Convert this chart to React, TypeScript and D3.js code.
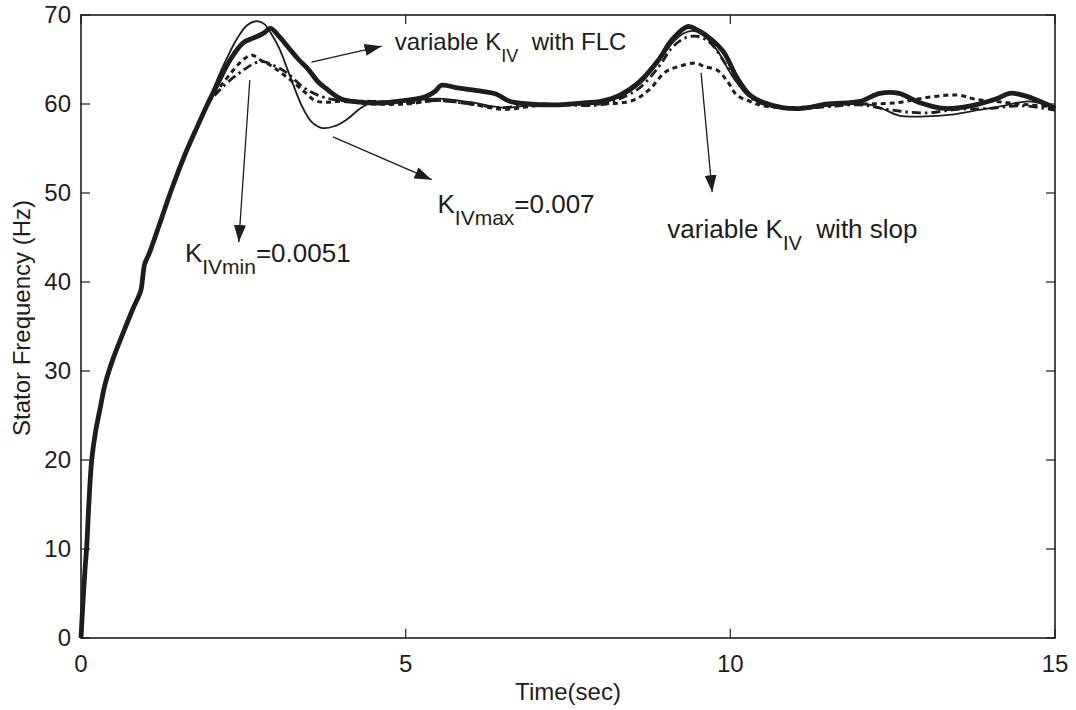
import React from "react";
import * as d3 from "d3";

// shared start-up transient (all four runs lie on top of each other here)
const riseT = [0, 0.03, 0.06, 0.09, 0.12, 0.165, 0.22, 0.3, 0.37, 0.5, 0.65, 0.8, 0.92, 0.95, 0.98, 1.05, 1.2, 1.4, 1.6, 1.8, 1.95];
const riseF = [0, 4, 7.5, 10.5, 15, 20, 23, 26, 28.5, 31.5, 34.3, 37, 39, 40.5, 42, 43.2, 46.3, 50.5, 54.3, 57.6, 60];

// variable K_IV with FLC (thick)
const flcT = [2.1, 2.3, 2.5, 2.65, 2.8, 2.92, 3.05, 3.2, 3.35, 3.5, 3.65, 3.8, 4.0, 4.3, 4.6, 5.0, 5.3, 5.45, 5.55, 5.8, 6.1, 6.4, 6.6, 6.9, 7.3, 7.7, 8.0, 8.3, 8.6, 8.9, 9.1, 9.34, 9.5, 9.7, 9.9, 10.1, 10.3, 10.5, 10.8, 11.1, 11.5, 12.0, 12.3, 12.6, 12.9, 13.3, 13.7, 14.1, 14.3, 14.5, 14.8, 15];
const flcF = [62.2, 65.0, 66.9, 67.4, 67.9, 68.5, 67.6, 66.3, 65.0, 63.9, 62.5, 61.6, 60.6, 60.2, 60.1, 60.4, 60.8, 61.4, 62.1, 61.8, 61.5, 61.1, 60.3, 60.0, 59.9, 60.1, 60.3, 61.0, 62.5, 65.0, 67.2, 68.7, 68.3, 67.3, 65.8, 63.0, 61.0, 60.2, 59.6, 59.5, 60.0, 60.3, 61.2, 61.2, 60.2, 59.5, 59.8, 60.6, 61.2, 61.0, 60.2, 59.5];

// K_IVmax = 0.007 (thin)
const maxT = [2.1, 2.25, 2.4, 2.55, 2.7, 2.82, 2.92, 3.05, 3.2, 3.4, 3.55, 3.72, 3.9, 4.1, 4.3, 4.5, 5.0, 5.5, 6.0, 6.5, 7.0, 7.5, 8.0, 8.3, 8.6, 8.9, 9.1, 9.3, 9.45, 9.6, 9.8, 10.0, 10.2, 10.4, 10.6, 11, 11.5, 12, 12.3, 12.6, 13.0, 13.4, 13.8, 14.2, 14.6, 15];
const maxF = [62.8, 65.2, 67.3, 68.8, 69.3, 69.0, 68.0, 66.3, 63.5, 59.8, 58.0, 57.3, 57.5, 58.3, 59.5, 60.2, 60.3, 60.6, 60.2, 59.6, 59.9, 60.0, 60.1, 60.8, 62.2, 64.8, 66.8, 68.0, 68.2, 67.6, 66.0, 63.5, 61.5, 60.4, 59.8, 59.4, 59.8, 60.1, 59.6, 58.7, 58.6, 58.8, 59.3, 59.8, 60.3, 59.6];

// variable K_IV with slop (dashed)
const slopT = [2.1, 2.3, 2.5, 2.63, 2.75, 2.95, 3.1, 3.26, 3.45, 3.6, 3.75, 4.0, 4.5, 5.0, 5.5, 6.0, 6.5, 7.0, 7.5, 8.0, 8.5, 8.75, 9.0, 9.2, 9.47, 9.6, 9.8, 9.95, 10.1, 10.3, 10.5, 11, 11.5, 12, 12.5, 13.1, 13.5, 13.8, 14.2, 14.6, 15];
const slopF = [61.5, 63.4, 65.0, 65.5, 65.0, 64.2, 63.4, 62.5, 61.3, 60.4, 60.2, 60.3, 60.0, 60.0, 60.4, 60.0, 59.4, 59.8, 60.0, 60.0, 60.4, 61.6, 63.6, 64.2, 64.6, 64.2, 63.8, 62.6, 61.0, 60.3, 59.8, 59.6, 59.9, 60.0, 60.1, 60.8, 61.0, 60.5, 60.2, 59.9, 59.7];

// K_IVmin = 0.0051 (dash-dot)
const minT = [2.1, 2.3, 2.5, 2.65, 2.78, 2.95, 3.17, 3.42, 3.72, 4.0, 4.5, 5.0, 5.5, 6.0, 6.5, 7.0, 8.0, 8.3, 8.6, 8.9, 9.1, 9.3, 9.5, 9.7, 9.9, 10.1, 10.3, 10.5, 11, 11.5, 12, 12.5, 13, 13.5, 14, 14.5, 15];
const minF = [61.3, 62.7, 63.8, 64.5, 64.8, 64.4, 63.5, 61.9, 60.8, 60.4, 60.3, 60.1, 60.4, 60.0, 59.6, 60.0, 59.9, 60.6, 61.8, 64.2, 66.3, 67.4, 67.6, 66.8, 64.8, 62.5, 60.8, 60.0, 59.5, 59.7, 59.9, 59.3, 59.0, 59.4, 59.5, 59.8, 59.3];

const xTicks = [0, 5, 10, 15];
const yTicks = [0, 10, 20, 30, 40, 50, 60, 70];

const W = 1076;
const H = 710;
const left = 81, right = 1055, top = 15, bottom = 638;
const ink = "#1f1c1d";
const font = "'Liberation Sans', Arial, Helvetica, sans-serif";

const x = d3.scaleLinear().domain([0, 15]).range([left, right]);
const y = d3.scaleLinear().domain([0, 70]).range([bottom, top]);

const line = d3
  .line<[number, number]>()
  .x((d) => x(d[0]))
  .y((d) => y(d[1]))
  .curve(d3.curveCatmullRom.alpha(0.5));

const join = (t: number[], f: number[]) =>
  riseT.map((v, i) => [v, riseF[i]] as [number, number]).concat(t.map((v, i) => [v, f[i]] as [number, number]));

const series = [
  { name: "min", t: minT, f: minF, width: 2.8, dash: "9,4,2.5,4" },
  { name: "slop", t: slopT, f: slopF, width: 3, dash: "5,4" },
  { name: "max", t: maxT, f: maxF, width: 1.8, dash: null },
  { name: "flc", t: flcT, f: flcF, width: 4.8, dash: null },
];

// arrows in data units: [t0, f0, t1, f1]
const arrows = [
  [3.55, 64.7, 4.63, 66.5],
  [3.88, 56.3, 5.4, 51.5],
  [2.6, 62.7, 2.43, 44.5],
  [9.55, 63.5, 9.72, 50.1],
];

const Label = ({ t, f, main, sub, rest, size = 24, subSize = 18 }: any) => (
  <text x={x(t)} y={y(f)} fontFamily={font} fontSize={size} fill={ink}>
    {main}
    <tspan fontSize={subSize} dy={12}>{sub}</tspan>
    <tspan dy={-12}>{rest}</tspan>
  </text>
);

export default function App() {
  return (
    <svg width={W} height={H} style={{ position: "absolute", left: 0, top: 0, background: "#fff" }}>
      <defs>
        <marker id="head" markerUnits="userSpaceOnUse" markerWidth={18} markerHeight={12} refX={17} refY={6} orient="auto">
          <path d="M0,0 L17,6 L0,12 Z" fill={ink} />
        </marker>
      </defs>

      {series.map((s) => (
        <path
          key={s.name}
          d={line(join(s.t, s.f)) || ""}
          fill="none"
          stroke={ink}
          strokeWidth={s.width}
          strokeDasharray={s.dash || undefined}
          strokeLinejoin="round"
        />
      ))}

      {/* axes box with inward ticks on all sides */}
      <rect x={left} y={top} width={right - left} height={bottom - top} fill="none" stroke={ink} strokeWidth={1.6} />
      {xTicks.map((v) => (
        <g key={"x" + v}>
          <line x1={x(v)} x2={x(v)} y1={bottom} y2={bottom - 9} stroke={ink} strokeWidth={1.2} />
          <line x1={x(v)} x2={x(v)} y1={top} y2={top + 9} stroke={ink} strokeWidth={1.2} />
          <text x={x(v)} y={bottom + 34} textAnchor="middle" fontFamily={font} fontSize={24} fill={ink}>
            {v}
          </text>
        </g>
      ))}
      {yTicks.map((v) => (
        <g key={"y" + v}>
          <line x1={left} x2={left + 9} y1={y(v)} y2={y(v)} stroke={ink} strokeWidth={1.2} />
          <line x1={right} x2={right - 9} y1={y(v)} y2={y(v)} stroke={ink} strokeWidth={1.2} />
          <text x={left - 10} y={y(v) + 8} textAnchor="end" fontFamily={font} fontSize={24} fill={ink}>
            {v}
          </text>
        </g>
      ))}
      <text x={(left + right) / 2} y={700} textAnchor="middle" fontFamily={font} fontSize={24} fill={ink}>
        Time(sec)
      </text>
      <text
        transform={`translate(30,318) rotate(-90)`}
        textAnchor="middle"
        fontFamily={font}
        fontSize={24}
        fill={ink}
      >
        Stator Frequency (Hz)
      </text>

      {arrows.map((a, i) => (
        <line
          key={"a" + i}
          x1={x(a[0])}
          y1={y(a[1])}
          x2={x(a[2])}
          y2={y(a[3])}
          stroke={ink}
          strokeWidth={1.3}
          markerEnd="url(#head)"
        />
      ))}

      <Label t={4.83} f={66.07} main="variable K" sub="IV" rest={"\u00a0\u00a0with FLC"} />
      <Label t={5.49} f={47.75} main="K" sub="IVmax" rest="=0.007" size={26} subSize={21} />
      <Label t={1.6} f={42.25} main="K" sub="IVmin" rest="=0.0051" size={26} subSize={21} />
      <Label t={9.03} f={45.0} main="variable K" sub="IV" rest={"\u00a0\u00a0with slop"} size={26} subSize={20} />
    </svg>
  );
}
